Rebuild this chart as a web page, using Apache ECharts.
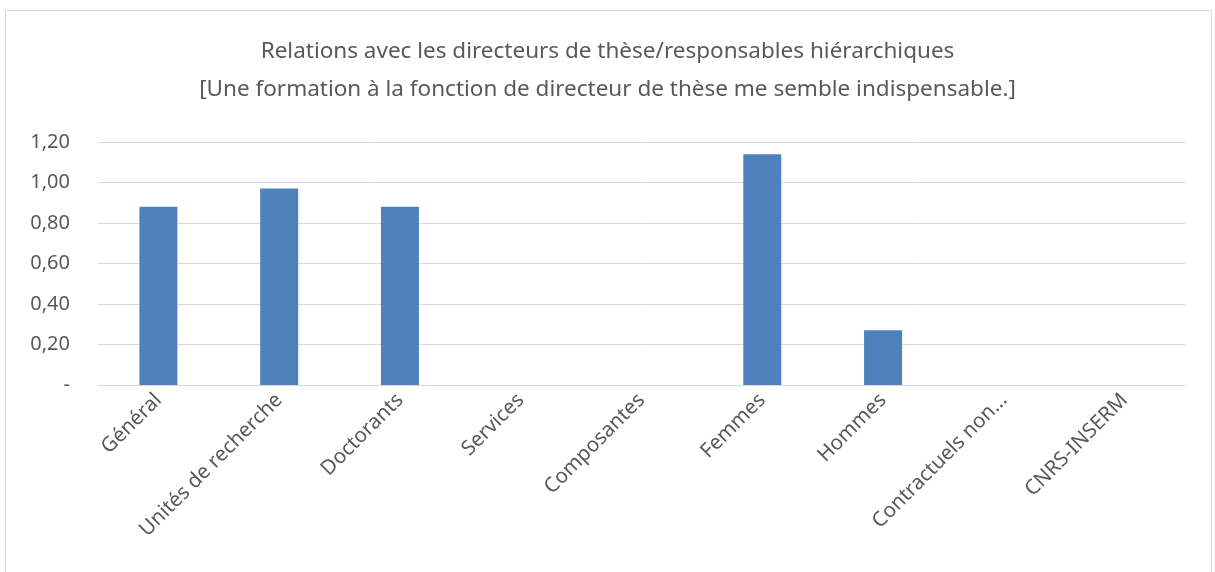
<!DOCTYPE html>
<html>
<head>
    <meta charset="utf-8">
    <title>Relations avec les directeurs de thèse</title>
    <script src="https://cdn.jsdelivr.net/npm/echarts@6/dist/echarts.min.js"></script>
    <style>
        html, body { margin: 0; padding: 0; background: #fff; overflow: hidden; }
        #frame { position: absolute; left: 5px; top: 10px; width: 1207px; height: 600px; border: 1px solid #d9d9d9; box-sizing: border-box; }
        #myechart { position: absolute; left: 0; top: 0; width: 1215px; height: 572px; }
    </style>
</head>
<body>
<div id="frame"></div>
<div id="myechart"></div>
<script>
    // categories and values
    var categories = ['Général', 'Unités de recherche', 'Doctorants', 'Services', 'Composantes',
        'Femmes', 'Hommes', 'Contractuels non…', 'CNRS-INSERM'];
    var values = [0.88, 0.97, 0.88, 0, 0, 1.14, 0.27, 0, 0];
    var yTicks = [0, 0.2, 0.4, 0.6, 0.8, 1.0, 1.2];

    var myechart = echarts.init(document.getElementById('myechart'));
    var font = 'Noto Sans, sans-serif';
    var option = {
        animation: false,
        title: {
            text: 'Relations avec les directeurs de thèse/responsables hiérarchiques\n[Une formation à la fonction de directeur de thèse me semble indispensable.]',
            left: 'center',
            top: 28,
            textStyle: {
                fontFamily: font,
                fontSize: 22.5,
                fontWeight: 'normal',
                color: '#595959',
                lineHeight: 38
            }
        },
        grid: {
            left: 98,
            right: 30,
            top: 142,
            bottom: 187,
            containLabel: false
        },
        xAxis: {
            type: 'category',
            data: categories,
            axisLine: { lineStyle: { color: '#d9d9d9', width: 1 } },
            axisTick: { show: false },
            axisLabel: {
                rotate: 45,
                interval: 0,
                margin: 12,
                fontFamily: font,
                fontSize: 20.5,
                color: '#595959'
            }
        },
        yAxis: {
            type: 'value',
            min: yTicks[0],
            max: yTicks[yTicks.length - 1],
            interval: 0.2,
            axisLine: { show: false },
            axisTick: { show: false },
            splitLine: { lineStyle: { color: '#d9d9d9', width: 1 } },
            axisLabel: {
                margin: 28,
                fontFamily: font,
                fontSize: 20,
                color: '#595959',
                formatter: function (v) {
                    if (Math.abs(v) < 1e-9) return '-';
                    return v.toFixed(2).replace('.', ',');
                }
            }
        },
        series: [{
            type: 'bar',
            data: values,
            barWidth: 38,
            itemStyle: { color: '#4f81bd' }
        }]
    };
    myechart.setOption(option);
</script>
</body>
</html>
